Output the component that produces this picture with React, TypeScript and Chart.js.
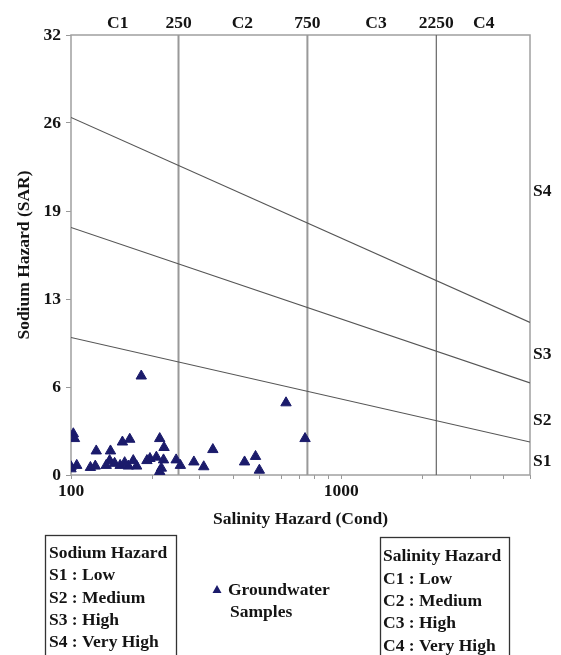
import React, { useEffect, useRef } from "react";
import { Chart, registerables } from "chart.js";

Chart.register(...registerables);

// ---- data ----
const sampleCond = [182, 625, 735, 102, 103, 124, 140, 155, 165, 213, 221, 335, 482, 439, 498, 310, 285, 245, 254, 216, 207, 220, 191, 170, 175, 163, 139, 145, 152, 135, 118, 123, 100, 105, 100, 213, 196, 158];
const sampleSAR = [7.2, 5.25, 2.65, 3.0, 2.65, 1.75, 1.75, 2.4, 2.6, 2.65, 2.0, 1.85, 1.35, 0.95, 0.35, 0.6, 0.95, 1.1, 0.7, 0.5, 1.3, 1.1, 1.05, 1.05, 0.65, 0.65, 1.05, 0.85, 0.7, 0.7, 0.55, 0.65, 0.6, 0.7, 0.45, 0.25, 1.2, 0.9];

const yTickValues = [0, 6.4, 12.8, 19.2, 25.6, 32];
const yTickLabels = ["0", "6", "13", "19", "26", "32"];
const xTickValues = [100, 200, 300, 400, 500, 600, 700, 800, 900, 1000, 2000, 3000, 4000, 5000];
const xLabelledTicks = [100, 1000];

const salinityBounds = [250, 750, 2250];
const topTickValues = [149, 250, 431, 750, 1346, 2250, 3370];
const topTickLabels = ["C1", "250", "C2", "750", "C3", "2250", "C4"];
const sodiumLabelValues = [20.65, 8.75, 4.0, 0.95];
const sodiumLabels = ["S4", "S3", "S2", "S1"];

const boundaryCond = [100, 5000];
const s1s2SAR = [10, 2.4];
const s2s3SAR = [18, 6.7];
const s3s4SAR = [26, 11.1];

const sodiumLegend = ["Sodium Hazard", "S1 : Low", "S2 : Medium", "S3 : High", "S4 : Very High"];
const salinityLegend = ["Salinity Hazard", "C1 : Low", "C2 : Medium", "C3 : High", "C4 : Very High"];
const sampleLegend = ["Groundwater", "Samples"];

const FONT = '"Liberation Serif", "Times New Roman", serif';
const FSIZE = 17.5;
const TEXT = "#141414";
const POINT = "#1b1b6b";

const framePlugin = {
  id: "frameAndLegend",
  beforeDatasetsDraw(chart: any) {
    const { ctx, chartArea: a } = chart;
    ctx.save();
    ctx.strokeStyle = "#a0a0a0";
    ctx.lineWidth = 1.5;
    ctx.strokeRect(a.left, a.top, a.right - a.left, a.bottom - a.top);
    ctx.restore();
  },
  afterDraw(chart: any) {
    const { ctx } = chart;
    ctx.save();
    ctx.font = `bold ${FSIZE}px ${FONT}`;
    ctx.fillStyle = TEXT;
    ctx.textBaseline = "middle";
    ctx.textAlign = "left";
    // left box
    ctx.strokeStyle = "#333";
    ctx.lineWidth = 1.3;
    ctx.strokeRect(45.5, 535.5, 131, 130);
    const lY = [553, 575, 598, 620, 642];
    sodiumLegend.forEach((t, i) => ctx.fillText(t, 49, lY[i]));
    // right box
    ctx.strokeRect(380.5, 537.5, 129, 130);
    const rY = [556, 579, 601, 623, 646];
    salinityLegend.forEach((t, i) => ctx.fillText(t, 383, rY[i]));
    // middle sample legend
    ctx.fillStyle = POINT;
    ctx.beginPath();
    ctx.moveTo(217, 585);
    ctx.lineTo(221.5, 593);
    ctx.lineTo(212.5, 593);
    ctx.closePath();
    ctx.fill();
    ctx.fillStyle = TEXT;
    ctx.fillText(sampleLegend[0], 228, 590);
    ctx.fillText(sampleLegend[1], 230, 612);
    ctx.restore();
  },
};

export default function App() {
  const ref = useRef<HTMLCanvasElement>(null);
  useEffect(() => {
    if (!ref.current) return;
    const lineDs = (xs: number[], ys: number[], color: string, w: number) => ({
      type: "scatter" as const,
      data: xs.map((x, i) => ({ x, y: ys[i] })),
      showLine: true,
      borderColor: color,
      borderWidth: w,
      pointRadius: 0,
      fill: false,
    });
    const datasets: any[] = [
      {
        label: "Groundwater Samples",
        data: sampleCond.map((x, i) => ({ x, y: sampleSAR[i] })),
        pointStyle: "triangle",
        pointRadius: 6,
        backgroundColor: POINT,
        borderColor: POINT,
        borderWidth: 1,
        showLine: false,
      },
      lineDs(boundaryCond, s1s2SAR, "#555", 1.1),
      lineDs(boundaryCond, s2s3SAR, "#555", 1.1),
      lineDs(boundaryCond, s3s4SAR, "#555", 1.1),
      ...salinityBounds.map((c, i) => lineDs([c, c], [0, 32], i === 2 ? "#666" : "#999", i === 2 ? 1.2 : 2)),
    ];
    const tickFont = { family: FONT, size: FSIZE, weight: "bold" as const };
    const chart = new Chart(ref.current, {
      type: "scatter",
      data: { datasets },
      plugins: [framePlugin],
      options: {
        animation: false,
        responsive: false,
        layout: { padding: { left: 0, right: 0, top: 0, bottom: 120 } },
        plugins: { legend: { display: false }, tooltip: { enabled: false } },
        scales: {
          x: {
            type: "logarithmic",
            position: "bottom",
            min: 100,
            max: 5000,
            afterBuildTicks: (s: any) => { s.ticks = xTickValues.map((v) => ({ value: v })); },
            afterFit: (s: any) => { s.height = 60; },
            border: { display: false },
            grid: { drawOnChartArea: false, drawTicks: true, tickLength: 4, color: "#999" },
            ticks: {
              autoSkip: false,
              maxRotation: 0,
              padding: 2,
              color: TEXT,
              font: tickFont,
              callback: (v: any) => (xLabelledTicks.includes(Number(v)) ? String(v) : ""),
            },
            title: { display: true, text: "Salinity Hazard (Cond)", color: TEXT, font: tickFont, padding: { top: 0, bottom: 5 } },
          },
          xTop: {
            type: "logarithmic",
            position: "top",
            min: 100,
            max: 5000,
            afterBuildTicks: (s: any) => { s.ticks = topTickValues.map((v) => ({ value: v })); },
            afterFit: (s: any) => { s.height = 35; },
            border: { display: false },
            grid: { display: false, drawTicks: false },
            ticks: {
              autoSkip: false,
              maxRotation: 0,
              padding: 1,
              color: TEXT,
              font: tickFont,
              callback: (_v: any, i: number) => topTickLabels[i],
            },
          },
          y: {
            type: "linear",
            position: "left",
            min: 0,
            max: 32,
            afterBuildTicks: (s: any) => { s.ticks = yTickValues.map((v) => ({ value: v })); },
            afterFit: (s: any) => { s.width = 71; },
            border: { display: false },
            grid: { drawOnChartArea: false, drawTicks: true, tickLength: 5, color: "#999" },
            ticks: {
              autoSkip: false,
              padding: 5,
              color: TEXT,
              font: tickFont,
              callback: (_v: any, i: number) => yTickLabels[i],
            },
            title: { display: true, text: "Sodium Hazard (SAR)", color: TEXT, font: tickFont, padding: { top: 14, bottom: 0 } },
          },
          yRight: {
            type: "linear",
            position: "right",
            min: 0,
            max: 32,
            afterBuildTicks: (s: any) => { s.ticks = sodiumLabelValues.map((v) => ({ value: v })); },
            afterFit: (s: any) => { s.width = 31; },
            border: { display: false },
            grid: { display: false, drawTicks: false },
            ticks: {
              autoSkip: false,
              padding: 3,
              color: TEXT,
              font: tickFont,
              callback: (_v: any, i: number) => sodiumLabels[i],
            },
          },
        },
      } as any,
    });
    return () => chart.destroy();
  }, []);
  return (
    <canvas
      ref={ref}
      width={561}
      height={655}
      style={{ position: "fixed", left: 0, top: 0, width: 561, height: 655, background: "#fff" }}
    />
  );
}
